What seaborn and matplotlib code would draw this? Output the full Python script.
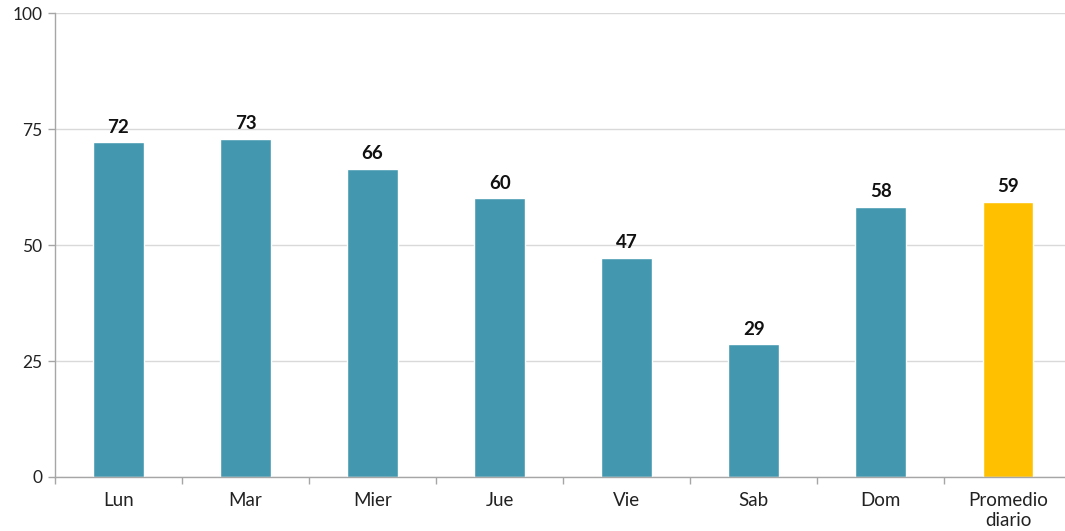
import matplotlib
matplotlib.use("Agg")
import matplotlib.pyplot as plt
import seaborn as sns
import pandas as pd
import numpy as np

# Daily values per weekday plus the daily average
dias = ["Lun", "Mar", "Mier", "Jue", "Vie", "Sab", "Dom", "Promedio\ndiario"]
valores = [72.2, 72.9, 66.4, 60.1, 47.2, 28.6, 58.2, 59.3]
colores = ["#4398B0"] * 7 + ["#FFC000"]
y_ticks = [0, 25, 50, 75, 100]

sns.set_theme(style="white")
plt.rcParams["font.family"] = ["Lato", "DejaVu Sans"]

df = pd.DataFrame({"dia": dias, "valor": valores})

fig = plt.figure(figsize=(10.65, 5.31), dpi=100)
ax = fig.add_axes([0.0516, 0.1017, 0.9545, 0.8738])

sns.barplot(data=df, x="dia", y="valor", hue="dia", palette=colores,
            legend=False, width=0.40, ax=ax, saturation=1)

ax.set_ylim(0, 100)
ax.set_xlim(-0.5, len(dias) - 0.5)
ax.set_yticks(y_ticks)
ax.set_yticklabels([str(t) for t in y_ticks], fontsize=12.5, color="#222222")
ax.yaxis.grid(True, color="#D9D9D9", linewidth=1)
ax.set_axisbelow(True)

# Category labels centered, tick marks at category boundaries
ax.set_xticks(range(len(dias)))
ax.set_xticklabels(dias, fontsize=13.5, color="#222222", linespacing=1.2)
ax.tick_params(axis="x", which="major", length=0, pad=11)
ax.set_xticks(np.arange(-0.5, len(dias), 1), minor=True)
ax.tick_params(axis="x", which="minor", length=5, color="#A6A6A6", width=1,
               direction="out", bottom=True)
ax.tick_params(axis="y", length=5, color="#A6A6A6", width=1, left=True, pad=4)

for side in ["top", "right"]:
    ax.spines[side].set_visible(False)
for side in ["left", "bottom"]:
    ax.spines[side].set_color("#A6A6A6")
    ax.spines[side].set_linewidth(1)

ax.set_xlabel("")
ax.set_ylabel("")

for i, v in enumerate(valores):
    ax.text(i, v + 1.4, f"{round(v):d}", ha="center", va="bottom",
            fontsize=13.5, fontweight="bold", color="#111111")

fig.savefig("out.png", dpi=100, facecolor="white")
